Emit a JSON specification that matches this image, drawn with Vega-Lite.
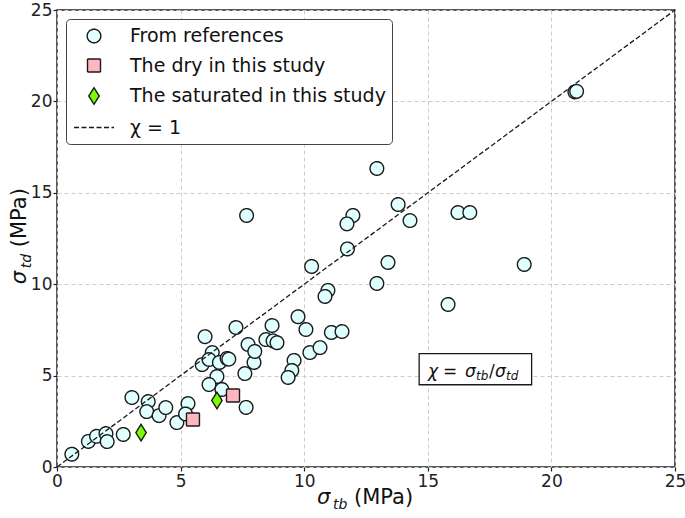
{
  "$schema": "https://vega.github.io/schema/vega-lite/v6.json",
  "width": 618,
  "height": 457,
  "autosize": {"type": "none"},
  "padding": {"left": 57, "top": 10, "right": 10, "bottom": 51},
  "background": "white",
  "config": {
    "view": {"stroke": "#222222", "strokeWidth": 1.5},
    "font": "DejaVu Sans",
    "axis": {
      "labelFont": "DejaVu Sans", "labelFontSize": 17, "labelColor": "#222222",
      "labelFlush": false, "labelOverlap": false,
      "grid": true, "gridColor": "#cccccc", "gridDash": [4, 3], "gridWidth": 1,
      "domain": false, "tickColor": "#222222", "tickSize": 4, "tickWidth": 1.2
    },
    "axisX": {"labelPadding": 2},
    "axisY": {"labelPadding": 1}
  },
  "data": {"values": [
    {"x": 0.6, "y": 0.7, "group": "From references"},
    {"x": 1.27, "y": 1.4, "group": "From references"},
    {"x": 1.6, "y": 1.68, "group": "From references"},
    {"x": 1.98, "y": 1.83, "group": "From references"},
    {"x": 2.03, "y": 1.39, "group": "From references"},
    {"x": 2.68, "y": 1.78, "group": "From references"},
    {"x": 3.03, "y": 3.8, "group": "From references"},
    {"x": 3.69, "y": 3.58, "group": "From references"},
    {"x": 3.63, "y": 3.03, "group": "From references"},
    {"x": 4.13, "y": 2.81, "group": "From references"},
    {"x": 4.4, "y": 3.25, "group": "From references"},
    {"x": 4.85, "y": 2.43, "group": "From references"},
    {"x": 5.3, "y": 3.47, "group": "From references"},
    {"x": 5.2, "y": 2.9, "group": "From references"},
    {"x": 7.65, "y": 3.26, "group": "From references"},
    {"x": 5.99, "y": 7.13, "group": "From references"},
    {"x": 6.28, "y": 6.26, "group": "From references"},
    {"x": 5.87, "y": 5.6, "group": "From references"},
    {"x": 6.15, "y": 5.88, "group": "From references"},
    {"x": 6.57, "y": 5.72, "group": "From references"},
    {"x": 6.88, "y": 5.94, "group": "From references"},
    {"x": 6.95, "y": 5.9, "group": "From references"},
    {"x": 6.47, "y": 4.95, "group": "From references"},
    {"x": 6.15, "y": 4.51, "group": "From references"},
    {"x": 6.67, "y": 4.24, "group": "From references"},
    {"x": 7.24, "y": 7.63, "group": "From references"},
    {"x": 7.73, "y": 6.7, "group": "From references"},
    {"x": 7.97, "y": 5.72, "group": "From references"},
    {"x": 7.6, "y": 5.11, "group": "From references"},
    {"x": 7.67, "y": 13.76, "group": "From references"},
    {"x": 11.97, "y": 13.76, "group": "From references"},
    {"x": 11.73, "y": 13.3, "group": "From references"},
    {"x": 11.75, "y": 11.93, "group": "From references"},
    {"x": 10.3, "y": 10.97, "group": "From references"},
    {"x": 12.94, "y": 10.04, "group": "From references"},
    {"x": 10.96, "y": 9.66, "group": "From references"},
    {"x": 10.84, "y": 9.33, "group": "From references"},
    {"x": 9.75, "y": 8.22, "group": "From references"},
    {"x": 8.7, "y": 7.74, "group": "From references"},
    {"x": 10.07, "y": 7.52, "group": "From references"},
    {"x": 11.1, "y": 7.36, "group": "From references"},
    {"x": 11.53, "y": 7.41, "group": "From references"},
    {"x": 8.45, "y": 6.97, "group": "From references"},
    {"x": 8.74, "y": 6.9, "group": "From references"},
    {"x": 8.9, "y": 6.8, "group": "From references"},
    {"x": 8.0, "y": 6.32, "group": "From references"},
    {"x": 10.23, "y": 6.26, "group": "From references"},
    {"x": 10.64, "y": 6.53, "group": "From references"},
    {"x": 9.59, "y": 5.83, "group": "From references"},
    {"x": 9.5, "y": 5.28, "group": "From references"},
    {"x": 9.35, "y": 4.9, "group": "From references"},
    {"x": 12.94, "y": 16.33, "group": "From references"},
    {"x": 13.8, "y": 14.36, "group": "From references"},
    {"x": 14.28, "y": 13.48, "group": "From references"},
    {"x": 13.39, "y": 11.19, "group": "From references"},
    {"x": 16.22, "y": 13.92, "group": "From references"},
    {"x": 16.7, "y": 13.92, "group": "From references"},
    {"x": 18.9, "y": 11.08, "group": "From references"},
    {"x": 15.82, "y": 8.89, "group": "From references"},
    {"x": 20.95, "y": 20.52, "group": "From references"},
    {"x": 21.02, "y": 20.55, "group": "From references"},
    {"x": 5.5, "y": 2.6, "group": "The dry in this study"},
    {"x": 7.12, "y": 3.91, "group": "The dry in this study"},
    {"x": 3.4, "y": 1.88, "group": "The saturated in this study"},
    {"x": 6.47, "y": 3.64, "group": "The saturated in this study"}
  ]},
  "layer": [
    {
      "mark": {"type": "point", "filled": true, "size": 400, "stroke": "#1a1a1a", "strokeWidth": 1.4, "opacity": 1, "fillOpacity": 1},
      "encoding": {
        "x": {"field": "x", "type": "quantitative", "scale": {"domain": [0, 25], "nice": false}, "axis": {"values": [0, 5, 10, 15, 20, 25], "title": null}},
        "y": {"field": "y", "type": "quantitative", "scale": {"domain": [0, 25], "nice": false}, "axis": {"values": [0, 5, 10, 15, 20, 25], "title": null}},
        "fill": {
          "field": "group", "type": "nominal",
          "scale": {
            "domain": ["From references", "The dry in this study", "The saturated in this study", "χ = 1"],
            "range": ["#e0ffff", "#ffb6c1", "#7cfc00", "transparent"]
          },
          "legend": {
            "title": null, "orient": "top-left", "offset": 9,
            "labelFont": "DejaVu Sans", "labelFontSize": 19, "labelColor": "#111111", "labelLimit": 400,
            "labelOffset": 25, "symbolSize": 400, "symbolOffset": 11,
            "symbolStrokeColor": "#1a1a1a", "symbolStrokeWidth": 1.4,
            "strokeColor": "#444444", "fillColor": "white", "cornerRadius": 4, "padding": 6, "rowPadding": 8.5
          }
        },
        "shape": {
          "field": "group", "type": "nominal",
          "scale": {
            "domain": ["From references", "The dry in this study", "The saturated in this study", "χ = 1"],
            "range": [
              "M0.68,0A0.68,0.68,0,1,1,-0.68,0A0.68,0.68,0,1,1,0.68,0Z",
              "M-0.65,-0.65H0.65V0.65H-0.65Z",
              "M0,-0.83L0.52,0L0,0.83L-0.52,0Z",
              "M-2,0H2"
            ]
          }
        },
        "strokeDash": {
          "field": "group", "type": "nominal",
          "scale": {
            "domain": ["From references", "The dry in this study", "The saturated in this study", "χ = 1"],
            "range": [[1, 0], [1, 0], [1, 0], [5, 2.5]]
          }
        }
      }
    },
    {
      "data": {"values": [{"x": 0, "y": 0}, {"x": 25, "y": 25}]},
      "mark": {"type": "line", "color": "#1a1a1a", "strokeWidth": 1.3, "strokeDash": [5, 2.5]},
      "encoding": {
        "x": {"field": "x", "type": "quantitative"},
        "y": {"field": "y", "type": "quantitative"}
      }
    },
    {
      "data": {"values": [{}]},
      "mark": {"type": "rect", "fill": "white", "stroke": "#1a1a1a", "strokeWidth": 1.3},
      "encoding": {
        "x": {"datum": 14.65, "type": "quantitative"}, "x2": {"datum": 19.2},
        "y": {"datum": 4.5, "type": "quantitative"}, "y2": {"datum": 6.2}
      }
    },
    {
      "data": {"values": [{}]},
      "mark": {"type": "text", "text": "χ", "fontSize": 17, "fontStyle": "italic", "align": "left", "baseline": "alphabetic", "dx": -48, "color": "#111111"},
      "encoding": {"x": {"datum": 16.95, "type": "quantitative"}, "y": {"datum": 4.9, "type": "quantitative"}}
    },
    {
      "data": {"values": [{}]},
      "mark": {"type": "text", "text": "=", "fontSize": 17, "align": "left", "baseline": "alphabetic", "dx": -33, "color": "#111111"},
      "encoding": {"x": {"datum": 16.95, "type": "quantitative"}, "y": {"datum": 4.9, "type": "quantitative"}}
    },
    {
      "data": {"values": [{}]},
      "mark": {"type": "text", "text": "σ", "fontSize": 17, "fontStyle": "italic", "align": "left", "baseline": "alphabetic", "dx": -11, "color": "#111111"},
      "encoding": {"x": {"datum": 16.95, "type": "quantitative"}, "y": {"datum": 4.9, "type": "quantitative"}}
    },
    {
      "data": {"values": [{}]},
      "mark": {"type": "text", "text": "tb", "fontSize": 12, "fontStyle": "italic", "align": "left", "baseline": "alphabetic", "dx": 0, "dy": 3, "color": "#111111"},
      "encoding": {"x": {"datum": 16.95, "type": "quantitative"}, "y": {"datum": 4.9, "type": "quantitative"}}
    },
    {
      "data": {"values": [{}]},
      "mark": {"type": "text", "text": "/", "fontSize": 17, "align": "left", "baseline": "alphabetic", "dx": 13, "color": "#111111"},
      "encoding": {"x": {"datum": 16.95, "type": "quantitative"}, "y": {"datum": 4.9, "type": "quantitative"}}
    },
    {
      "data": {"values": [{}]},
      "mark": {"type": "text", "text": "σ", "fontSize": 17, "fontStyle": "italic", "align": "left", "baseline": "alphabetic", "dx": 19, "color": "#111111"},
      "encoding": {"x": {"datum": 16.95, "type": "quantitative"}, "y": {"datum": 4.9, "type": "quantitative"}}
    },
    {
      "data": {"values": [{}]},
      "mark": {"type": "text", "text": "td", "fontSize": 12, "fontStyle": "italic", "align": "left", "baseline": "alphabetic", "dx": 30, "dy": 3, "color": "#111111"},
      "encoding": {"x": {"datum": 16.95, "type": "quantitative"}, "y": {"datum": 4.9, "type": "quantitative"}}
    },
    {
      "data": {"values": [{}]},
      "mark": {"type": "text", "text": "σ", "fontSize": 21, "fontStyle": "italic", "align": "left", "baseline": "alphabetic", "dx": -49, "color": "#111111"},
      "encoding": {"x": {"datum": 12.5, "type": "quantitative"}, "y": {"datum": -2.0, "type": "quantitative"}}
    },
    {
      "data": {"values": [{}]},
      "mark": {"type": "text", "text": "tb", "fontSize": 14, "fontStyle": "italic", "align": "left", "baseline": "alphabetic", "dx": -33, "dy": 5, "color": "#111111"},
      "encoding": {"x": {"datum": 12.5, "type": "quantitative"}, "y": {"datum": -2.0, "type": "quantitative"}}
    },
    {
      "data": {"values": [{}]},
      "mark": {"type": "text", "text": "(MPa)", "fontSize": 21, "align": "left", "baseline": "alphabetic", "dx": -12, "color": "#111111"},
      "encoding": {"x": {"datum": 12.5, "type": "quantitative"}, "y": {"datum": -2.0, "type": "quantitative"}}
    },
    {
      "data": {"values": [{}]},
      "mark": {"type": "text", "text": "σ", "fontSize": 21, "fontStyle": "italic", "angle": 270, "align": "left", "baseline": "alphabetic", "dx": -53, "color": "#111111"},
      "encoding": {"x": {"datum": -1.25, "type": "quantitative"}, "y": {"datum": 12.9, "type": "quantitative"}}
    },
    {
      "data": {"values": [{}]},
      "mark": {"type": "text", "text": "td", "fontSize": 14, "fontStyle": "italic", "angle": 270, "align": "left", "baseline": "alphabetic", "dx": -37, "dy": 5, "color": "#111111"},
      "encoding": {"x": {"datum": -1.25, "type": "quantitative"}, "y": {"datum": 12.9, "type": "quantitative"}}
    },
    {
      "data": {"values": [{}]},
      "mark": {"type": "text", "text": "(MPa)", "fontSize": 21, "angle": 270, "align": "left", "baseline": "alphabetic", "dx": -16, "color": "#111111"},
      "encoding": {"x": {"datum": -1.25, "type": "quantitative"}, "y": {"datum": 12.9, "type": "quantitative"}}
    }
  ]
}
